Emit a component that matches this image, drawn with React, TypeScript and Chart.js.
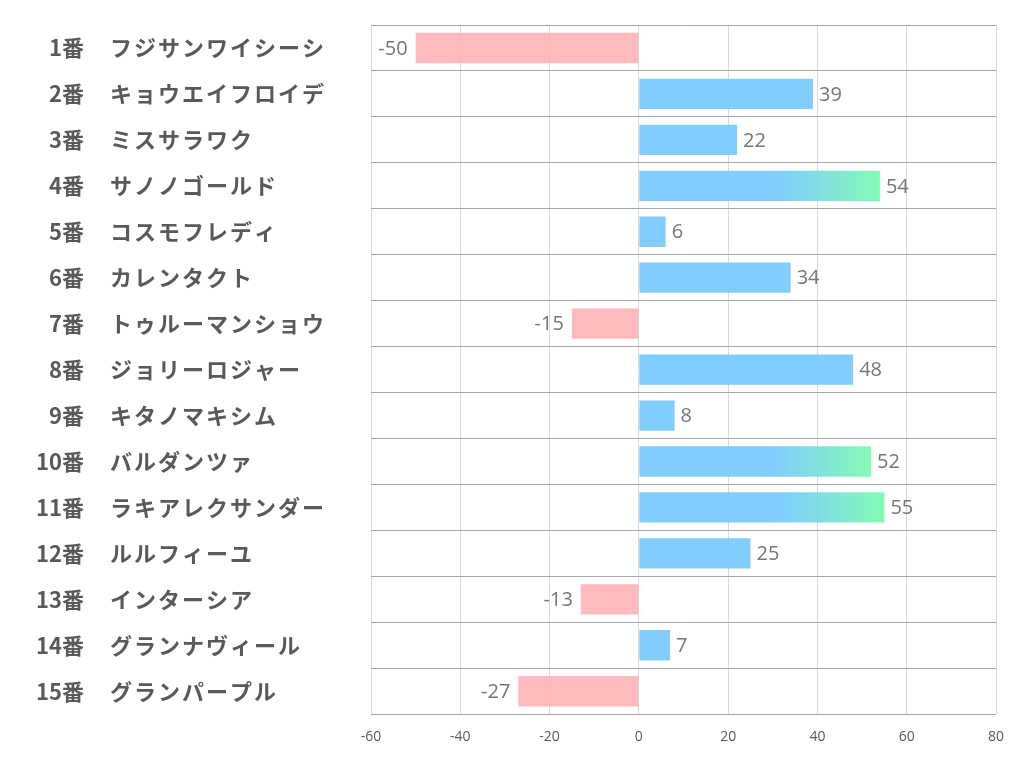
import React, { useEffect, useRef } from "react";
import { Chart, registerables } from "chart.js";

Chart.register(...registerables);

const numbers = ["1番", "2番", "3番", "4番", "5番", "6番", "7番", "8番", "9番", "10番", "11番", "12番", "13番", "14番", "15番"];
const names = [
  "フジサンワイシーシ",
  "キョウエイフロイデ",
  "ミスサラワク",
  "サノノゴールド",
  "コスモフレディ",
  "カレンタクト",
  "トゥルーマンショウ",
  "ジョリーロジャー",
  "キタノマキシム",
  "バルダンツァ",
  "ラキアレクサンダー",
  "ルルフィーユ",
  "インターシア",
  "グランナヴィール",
  "グランパープル",
];
const values = [-50, 39, 22, 54, 6, 34, -15, 48, 8, 52, 55, 25, -13, 7, -27];
const xTicks = [-60, -40, -20, 0, 20, 40, 60, 80];

const BLUE = "rgba(118,201,255,0.92)";
const GREEN = "rgba(125,250,178,0.95)";
const PINK = "rgba(255,178,182,0.9)";

const labelsPlugin = {
  id: "customLabels",
  afterDraw(chart: any) {
    const ctx = chart.ctx;
    const y = chart.scales.y;
    const x = chart.scales.x;
    ctx.save();
    ctx.textBaseline = "middle";
    numbers.forEach((n, i) => {
      const py = y.getPixelForValue(i);
      ctx.fillStyle = "#595959";
      ctx.font = "bold 22px 'Noto Sans CJK JP'";
      (ctx as any).letterSpacing = "0px";
      ctx.textAlign = "right";
      ctx.fillText(n, 84, py);
      (ctx as any).letterSpacing = "2px";
      ctx.textAlign = "left";
      ctx.fillText(names[i], 110, py);
    });
    (ctx as any).letterSpacing = "0px";
    const meta = chart.getDatasetMeta(0);
    ctx.font = "20px 'Open Sans'";
    ctx.fillStyle = "#767676";
    values.forEach((v, i) => {
      const bar = meta.data[i];
      const px = x.getPixelForValue(v);
      const py = bar.y;
      if (v >= 0) {
        ctx.textAlign = "left";
        ctx.fillText(String(v), px + 6, py + 1);
      } else {
        ctx.textAlign = "right";
        ctx.fillText(String(v), px - 8, py + 1);
      }
    });
    ctx.restore();
  },
};

export default function App() {
  const ref = useRef<HTMLCanvasElement | null>(null);
  useEffect(() => {
    if (!ref.current) return;
    const chart = new Chart(ref.current, {
      type: "bar",
      data: {
        labels: numbers.map((n, i) => n + " " + names[i]),
        datasets: [
          {
            data: values,
            backgroundColor: (c: any) => {
              const v = values[c.dataIndex];
              if (v < 0) return PINK;
              if (v < 50) return BLUE;
              const ch = c.chart;
              if (!ch.chartArea || !ch.scales.x) return BLUE;
              const x0 = ch.scales.x.getPixelForValue(0);
              const x1 = ch.scales.x.getPixelForValue(v);
              const g = ch.ctx.createLinearGradient(x0, 0, x1, 0);
              g.addColorStop(0, BLUE);
              g.addColorStop(0.57, BLUE);
              g.addColorStop(1, GREEN);
              return g;
            },
            borderWidth: 0,
            barPercentage: 0.66,
            categoryPercentage: 1,
          },
        ],
      },
      options: {
        indexAxis: "y",
        responsive: true,
        maintainAspectRatio: false,
        animation: false,
        layout: { padding: { left: 371, right: 26, top: 25, bottom: 23 } },
        plugins: { legend: { display: false }, tooltip: { enabled: false } },
        scales: {
          x: {
            min: -60,
            max: 80,
            afterBuildTicks: (axis: any) => {
              axis.ticks = xTicks.map((v) => ({ value: v }));
            },
            grid: { color: "#d9d9d9", lineWidth: 1, drawTicks: false },
            border: { display: false },
            ticks: {
              color: "#595959",
              font: { size: 14, family: "'Open Sans'" },
              padding: 14,
            },
          },
          y: {
            grid: {
              offset: true,
              color: "#a6a6a6",
              lineWidth: 1,
              drawTicks: false,
            },
            border: { display: false },
            ticks: { display: false },
          },
        },
      },
      plugins: [labelsPlugin],
    } as any);
    return () => chart.destroy();
  }, []);
  return (
    <div style={{ position: "absolute", left: 0, top: 0, width: 1022, height: 782, background: "#fff" }}>
      <canvas ref={ref} />
    </div>
  );
}
